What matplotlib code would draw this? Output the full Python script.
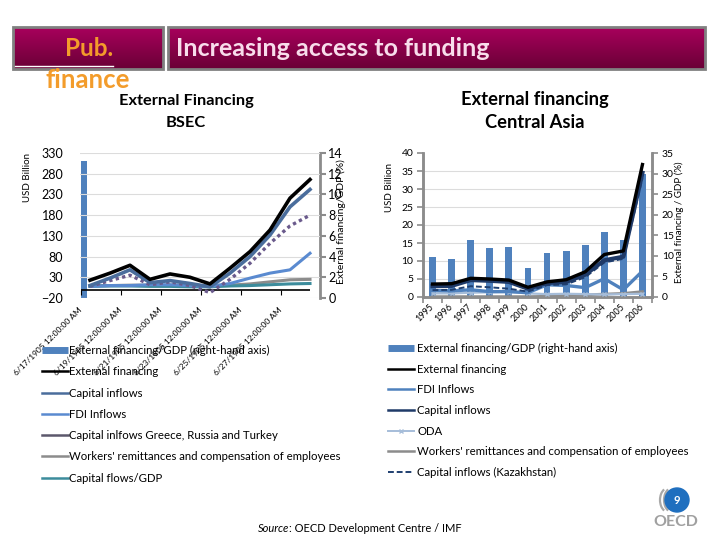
import numpy as np
import matplotlib
matplotlib.use("Agg")
import matplotlib.pyplot as plt
from matplotlib.lines import Line2D
from matplotlib.patches import Rectangle, Circle, Arc
from matplotlib.colors import LinearSegmentedColormap
import matplotlib.transforms as mtransforms

plt.rcParams['font.family'] = ['Lato', 'DejaVu Sans']

# ---------------- BSEC data (USD billion) ----------------
bsec_years = [1995, 1996, 1997, 1998, 1999, 2000, 2001, 2002, 2003, 2004, 2005, 2006]
bsec_tick_years = [1995, 1997, 1999, 2001, 2003, 2005]
bsec_tick_labels = ["6/17/1905 12:00:00 AM", "6/19/1905 12:00:00 AM", "6/21/1905 12:00:00 AM",
                    "6/23/1905 12:00:00 AM", "6/25/1905 12:00:00 AM", "6/27/1905 12:00:00 AM"]
bsec_ext_fin = [23, 40, 59, 25, 38, 30, 14, 52, 92, 144, 221, 266]
bsec_cap_in = [10, 28, 48, 17, 22, 15, 7, 40, 80, 132, 200, 242]
bsec_fdi = [8, 10, 10, 12, 12, 10, 8, 15, 28, 40, 48, 88]
bsec_grt = [8, 22, 35, 12, 19, 10, -7, 25, 64, 112, 154, 180]
bsec_remit = [10, 10, 11, 11, 11, 10, 10, 11, 14, 19, 24, 25]
bsec_capgdp = [8, 9, 9, 8, 8, 7, 7, 9, 10, 12, 14, 15]
bsec_bar_pos = [0.15]
bsec_bar_val = [13.2]   # External financing / GDP (%)

# ---------------- Central Asia data (USD billion, % GDP) ----------------
ca_years = ["1995", "1996", "1997", "1998", "1999", "2000", "2001", "2002", "2003", "2004", "2005", "2006"]
ca_ext_gdp = [9.7, 9.3, 13.9, 12.0, 12.2, 7.1, 10.7, 11.2, 12.6, 15.8, 13.8, 30.0]
ca_ext_fin = [3.6, 3.7, 5.2, 5.0, 4.7, 2.7, 4.2, 4.8, 7.0, 11.8, 12.8, 36.8]
ca_fdi = [1.8, 1.7, 2.0, 1.5, 1.5, 1.2, 3.4, 3.2, 2.6, 5.1, 2.0, 7.2]
ca_cap_in = [3.0, 3.1, 4.7, 4.5, 4.2, 2.3, 3.9, 4.2, 6.2, 10.2, 11.2, 34.5]
ca_oda = [1.0, 1.0, 1.2, 1.3, 1.4, 1.0, 0.8, 0.9, 0.8, 0.7, 0.8, 0.9]
ca_remit = [0.1, 0.1, 0.1, 0.1, 0.1, 0.1, 0.2, 0.5, 0.6, 0.8, 1.0, 1.5]
ca_kaz = [1.9, 2.0, 3.0, 2.7, 2.3, 1.5, 3.3, 3.5, 5.5, 9.6, 10.6, 33.0]

# ---------------- styles ----------------
BAR = '#4F81BD'
GRID = '#DCDCDC'
SPINE = '#8C8C8C'

W, H = 720, 540
fig = plt.figure(figsize=(7.2, 5.4), dpi=100)
fig.patch.set_facecolor('white')


def rect(x0, y0, x1, y1):
    return [x0 / W, 1 - y1 / H, (x1 - x0) / W, (y1 - y0) / H]


# decoration layer in pixel coordinates
deco = fig.add_axes([0, 0, 1, 1])
deco.set_xlim(0, W)
deco.set_ylim(H, 0)
deco.axis('off')

cmap = LinearSegmentedColormap.from_list('hdr', ['#A8005C', '#6A0036'])
grad = np.linspace(0, 1, 64).reshape(-1, 1)
for (x0, x1) in [(13, 163), (168, 705)]:
    deco.imshow(grad, extent=(x0, x1, 69, 27), aspect='auto', cmap=cmap, zorder=1)
    deco.add_patch(Rectangle((x0, 27), x1 - x0, 42, fill=False, ec='#808080', lw=2, zorder=2))
deco.set_xlim(0, W)
deco.set_ylim(H, 0)

deco.text(89, 49, "Pub.", color='#F39C2B', fontsize=17.5, fontweight='bold', ha='center', va='center', zorder=3)
deco.plot([15, 113], [66, 66], color='white', lw=1, zorder=3)
deco.text(88, 80, "finance", color='#F39C2B', fontsize=18.5, fontweight='bold', ha='center', va='center', zorder=3)
deco.text(176, 48, "Increasing access to funding", color='#F8DDEB', fontsize=18, fontweight='bold',
          ha='left', va='center', zorder=3)

deco.text(186, 101, "External Financing", fontsize=11.8, fontweight='bold', ha='center', va='center')
deco.text(186, 123, "BSEC", fontsize=11.8, fontweight='bold', ha='center', va='center')
deco.text(535, 100, "External financing", fontsize=13.2, fontweight='bold', ha='center', va='center')
deco.text(535, 123, "Central Asia", fontsize=13.2, fontweight='bold', ha='center', va='center')

deco.text(27, 178, "USD Billion", fontsize=7, rotation=90, ha='center', va='center')
deco.text(341, 222, "External financing/GDP (%)", fontsize=7.5, rotation=90, ha='center', va='center', zorder=5)
deco.text(390, 187, "USD Billion", fontsize=7, rotation=90, ha='center', va='center')
deco.text(679, 222, "External financing / GDP (%)", fontsize=7, rotation=90, ha='center', va='center')

src = deco.text(258, 528, "Source", fontsize=8, style='italic', ha='left', va='center')
deco.annotate(": OECD Development Centre / IMF", xy=(1, 0.5), xycoords=src, fontsize=8,
              ha='left', va='center')

# OECD logo
deco.add_patch(Circle((677, 500), 12, color='#1F6FBF', zorder=3))
deco.text(677, 500, "9", color='white', fontsize=8, fontweight='bold', ha='center', va='center', zorder=4)
deco.text(676, 522, "OECD", color='#A0A0A0', fontsize=11.5, fontweight='bold', ha='center', va='center')
for dx in (0, 4, 8):
    deco.add_patch(Arc((668 + dx, 500), 16, 24, theta1=110, theta2=250, color='#A8A8A8', lw=1.6))

# ---------------- BSEC chart ----------------
ax1 = fig.add_axes(rect(80, 153, 320, 298))
ax1r = ax1.twinx()
ax1.set_zorder(ax1r.get_zorder() + 1)
ax1.patch.set_visible(False)

x0 = bsec_years[0]
bx = np.array(bsec_years) - x0 + 0.45
ticks = np.array(bsec_tick_years) - x0

ax1r.bar(bsec_bar_pos, bsec_bar_val, width=0.3, color=BAR, zorder=2)
ax1r.set_ylim(0, 14)
ax1r.set_yticks(np.arange(0, 15, 2))

ax1.plot(bx, bsec_remit, color='#8C8C8C', lw=2.2, zorder=3)
ax1.plot(bx, bsec_capgdp, color='#3C8C9C', lw=2.2, zorder=3)
ax1.plot(bx, bsec_fdi, color='#5A8AD0', lw=2.2, zorder=4)
ax1.plot(bx, bsec_grt, color='#6A5A8C', lw=2.4, ls=(0, (1, 1.0)), zorder=4)
ax1.plot(bx, bsec_cap_in, color='#4A6D9C', lw=2.6, zorder=5)
ax1.plot(bx, bsec_ext_fin, color='black', lw=2.6, zorder=6)
ax1.hlines(0, ticks[0], bx[-1], color='black', lw=1.2, zorder=2)
ax1.vlines(ticks, -12, 0, color='black', lw=0.8, zorder=2)

ax1.set_xlim(-0.05, 11.95)
ax1.set_ylim(-20, 330)
ax1.set_yticks(np.arange(-20, 331, 50))
ax1.grid(axis='y', color=GRID, lw=0.8)
ax1.set_axisbelow(True)
ax1.set_xticks(ticks)
ax1.set_xticklabels(bsec_tick_labels, rotation=45, ha='right', va='center',
                    rotation_mode='anchor', fontsize=6)
off = mtransforms.ScaledTranslation(7 / 100, -4 / 100, fig.dpi_scale_trans)
for lbl in ax1.get_xticklabels():
    lbl.set_transform(lbl.get_transform() + off)
ax1.tick_params(axis='x', length=0, pad=8)
ax1.tick_params(axis='y', length=0, labelsize=9, pad=12)
for s in ['top', 'left', 'bottom', 'right']:
    ax1.spines[s].set_visible(False)
for s in ['top', 'left', 'bottom']:
    ax1r.spines[s].set_visible(False)
ax1r.spines['right'].set_color(SPINE)
ax1r.spines['right'].set_linewidth(2)
ax1r.tick_params(axis='y', colors='black', labelsize=9, length=4, width=1.5, color=SPINE, pad=2)

# ---------------- Central Asia chart ----------------
ax2b = fig.add_axes(rect(423, 153, 652, 297))
ax2 = ax2b.twinx()
cx = np.arange(len(ca_years))

ax2b.bar(cx, ca_ext_gdp, width=0.36, color=BAR, zorder=2)
ax2b.set_ylim(0, 35)
ax2b.set_yticks(np.arange(0, 36, 5))
ax2b.set_yticks(np.arange(0, 41, 5) * 35 / 40, minor=True)
ax2b.grid(axis='y', which='minor', color=GRID, lw=0.8)
ax2b.grid(axis='y', which='major', visible=False)
ax2b.set_axisbelow(True)
ax2b.yaxis.tick_right()
ax2b.tick_params(axis='y', which='minor', length=0)
ax2b.tick_params(axis='y', which='major', labelsize=7.5, length=4, width=1.2, color=SPINE, pad=3)

ax2.plot(cx, ca_remit, color='#8C8C8C', lw=2.0, zorder=3)
ax2.plot(cx, ca_oda, color='#A6BDD9', lw=1.6, marker='x', ms=2.5, zorder=3)
ax2.plot(cx, ca_fdi, color='#4F81BD', lw=2.4, zorder=4)
ax2.plot(cx, ca_kaz, color='#1F3F70', lw=1.4, ls=(0, (3, 1.5)), zorder=4)
ax2.plot(cx, ca_cap_in, color='#1F3A68', lw=3.0, zorder=5)
ax2.plot(cx, ca_ext_fin, color='black', lw=2.4, zorder=6)
ax2.set_ylim(0, 40)
ax2.set_yticks(np.arange(0, 41, 5))
ax2.yaxis.tick_left()
ax2.tick_params(axis='y', labelsize=7.5, length=4, width=1.2, color=SPINE, pad=3)
ax2.set_xlim(-0.5, len(ca_years) - 0.5)
ax2b.set_xlim(-0.5, len(ca_years) - 0.5)
ax2b.set_xticks(cx)
ax2b.set_xticklabels(ca_years, rotation=45, ha='right', va='center', rotation_mode='anchor', fontsize=6.5)
ax2b.set_xticks(np.arange(-0.5, len(ca_years), 1), minor=True)
ax2b.tick_params(axis='x', which='major', length=0, pad=6)
ax2b.tick_params(axis='x', which='minor', length=4, width=1.2, color=SPINE)
for a in (ax2b, ax2):
    a.spines['top'].set_visible(False)
    for s in ('left', 'right', 'bottom'):
        a.spines[s].set_color(SPINE)
        a.spines[s].set_linewidth(1.8)

# ---------------- legends ----------------
left_handles = [
    Line2D([], [], color=BAR, lw=5, solid_capstyle='butt'),
    Line2D([], [], color='black', lw=1.8),
    Line2D([], [], color='#4A6D9C', lw=1.8),
    Line2D([], [], color='#5A8AD0', lw=1.8),
    Line2D([], [], color='#5C586C', lw=1.8),
    Line2D([], [], color='#8C8C8C', lw=1.8),
    Line2D([], [], color='#3C8C9C', lw=1.8),
]
left_labels = ["External financing/GDP (right-hand axis)", "External financing", "Capital inflows",
               "FDI Inflows", "Capital inlfows Greece, Russia and Turkey",
               "Workers' remittances and compensation of employees", "Capital flows/GDP"]
leg1 = fig.legend(left_handles, left_labels, loc='upper left', bbox_to_anchor=(42 / W, 1 - 345 / H),
                  frameon=False, fontsize=8.2, handlelength=2.3, handletextpad=0.1,
                  labelspacing=0.9, borderpad=0, borderaxespad=0)

right_handles = [
    Line2D([], [], color=BAR, lw=5, solid_capstyle='butt'),
    Line2D([], [], color='black', lw=1.8),
    Line2D([], [], color='#4F81BD', lw=1.8),
    Line2D([], [], color='#1F3A68', lw=1.8),
    Line2D([], [], color='#A6BDD9', lw=1.4, marker='x', ms=2.5),
    Line2D([], [], color='#8C8C8C', lw=1.8),
    Line2D([], [], color='#1F3F70', lw=1.4, ls=(0, (3, 1.5))),
]
right_labels = ["External financing/GDP (right-hand axis)", "External financing", "FDI Inflows",
                "Capital inflows", "ODA", "Workers' remittances and compensation of employees",
                "Capital inflows (Kazakhstan)"]
leg2 = fig.legend(right_handles, right_labels, loc='upper left', bbox_to_anchor=(388 / W, 1 - 343 / H),
                  frameon=False, fontsize=8.2, handlelength=2.3, handletextpad=0.25,
                  labelspacing=0.85, borderpad=0, borderaxespad=0)

fig.savefig('out.png', dpi=100, facecolor='white')
